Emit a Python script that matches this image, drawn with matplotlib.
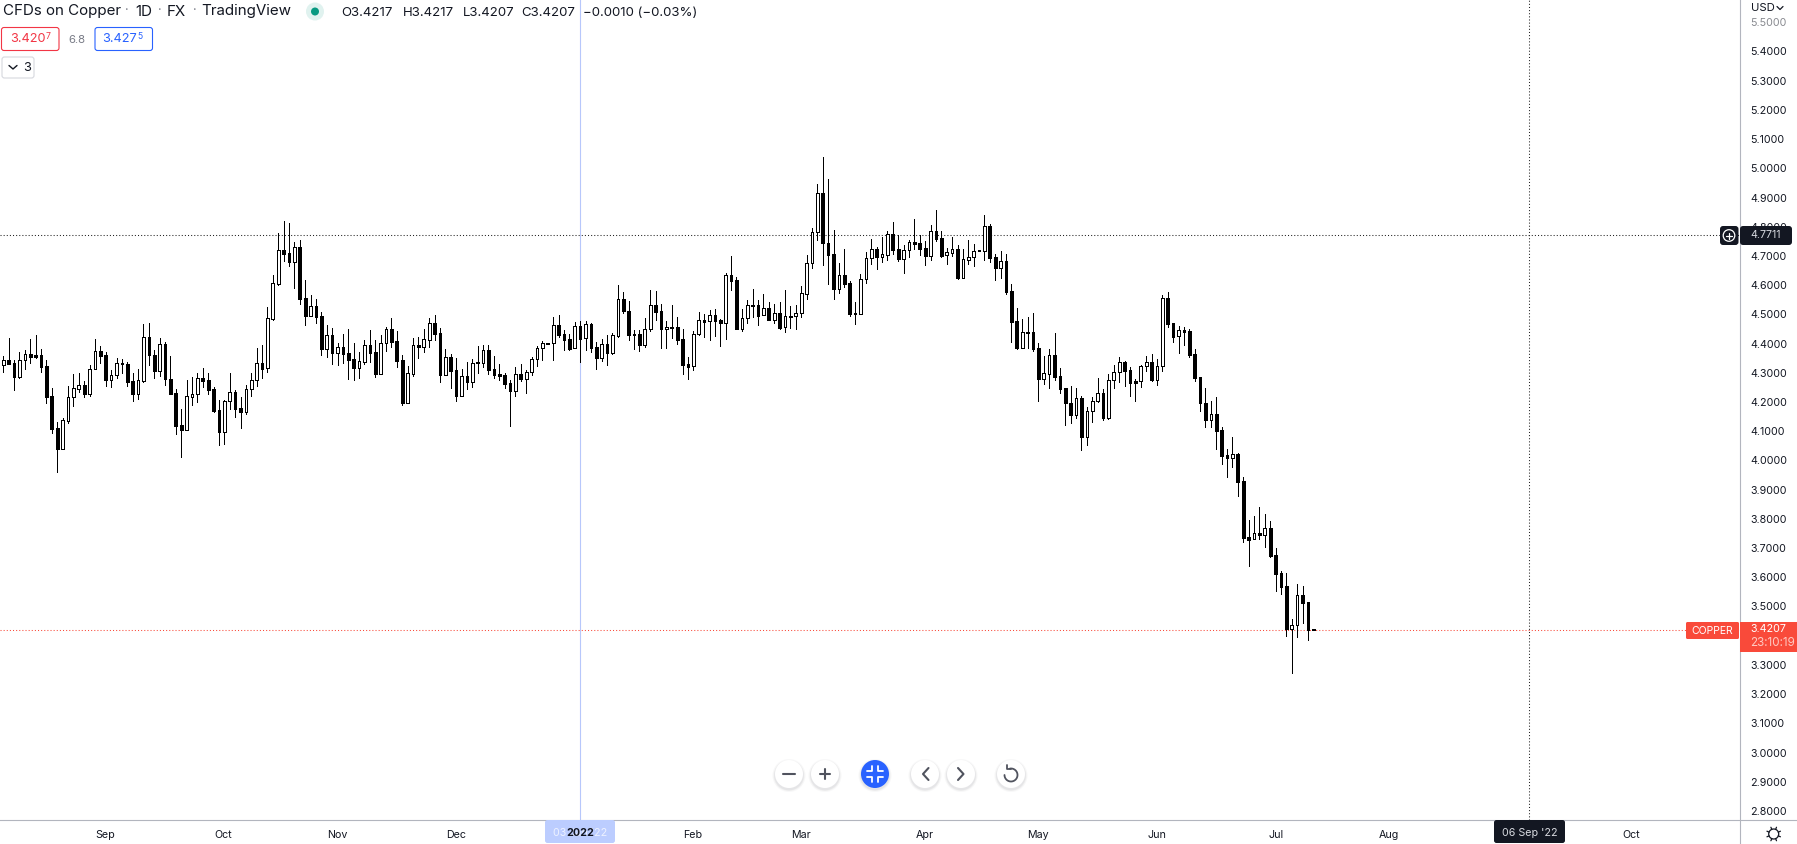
import numpy as np
import matplotlib
matplotlib.use('Agg')
import matplotlib.pyplot as plt
from matplotlib.patches import Circle, FancyBboxPatch, Rectangle

plt.rcParams['font.family'] = ['Inter', 'DejaVu Sans']

# Daily candles
opens = [
    4.328, 4.343, 4.333, 4.286, 4.343, 4.363, 4.360, 4.360, 4.322, 4.220,
    4.110, 4.040, 4.136, 4.216, 4.246, 4.257, 4.229, 4.312, 4.374, 4.360,
    4.274, 4.291, 4.334, 4.329, 4.271, 4.229, 4.273, 4.421, 4.360, 4.307,
    4.398, 4.278, 4.230, 4.120, 4.105, 4.218, 4.226, 4.281, 4.274, 4.243,
    4.172, 4.099, 4.202, 4.233, 4.179, 4.167, 4.243, 4.274, 4.333, 4.315,
    4.484, 4.604, 4.719, 4.709, 4.681, 4.730, 4.555, 4.496, 4.528, 4.493,
    4.383, 4.428, 4.369, 4.387, 4.367, 4.346, 4.318, 4.338, 4.394, 4.370,
    4.297, 4.401, 4.449, 4.408, 4.343, 4.198, 4.297, 4.394, 4.390, 4.414,
    4.469, 4.435, 4.294, 4.353, 4.309, 4.222, 4.288, 4.270, 4.336, 4.335,
    4.377, 4.312, 4.295, 4.291, 4.264, 4.239, 4.295, 4.280, 4.302, 4.346,
    4.384, 4.403, 4.403, 4.462, 4.432, 4.415, 4.384, 4.459, 4.418, 4.467,
    4.387, 4.352, 4.398, 4.369, 4.427, 4.552, 4.510, 4.432, 4.432, 4.396,
    4.449, 4.531, 4.510, 4.449, 4.456, 4.456, 4.415, 4.329, 4.322, 4.432,
    4.480, 4.476, 4.497, 4.480, 4.469, 4.634, 4.617, 4.451, 4.487, 4.531,
    4.531, 4.497, 4.521, 4.480, 4.504, 4.456, 4.493, 4.493, 4.504, 4.571,
    4.675, 4.781, 4.915, 4.743, 4.706, 4.588, 4.634, 4.606, 4.504, 4.500,
    4.620, 4.692, 4.723, 4.698, 4.705, 4.774, 4.723, 4.691, 4.719, 4.747,
    4.743, 4.726, 4.701, 4.784, 4.760, 4.702, 4.711, 4.723, 4.626, 4.687,
    4.696, 4.719, 4.718, 4.802, 4.696, 4.660, 4.682, 4.579, 4.476, 4.384,
    4.439, 4.439, 4.384, 4.280, 4.297, 4.360, 4.288, 4.247, 4.196, 4.157,
    4.213, 4.080, 4.168, 4.203, 4.230, 4.145, 4.274, 4.302, 4.336, 4.309,
    4.271, 4.271, 4.322, 4.336, 4.277, 4.322, 4.555, 4.470, 4.425, 4.446,
    4.442, 4.363, 4.285, 4.196, 4.137, 4.158, 4.103, 4.019, 4.010, 4.022,
    3.929, 3.737, 3.730, 3.751, 3.746, 3.768, 3.675, 3.614, 3.570, 3.424,
    3.436, 3.539, 3.514, 3.4217,
]
highs = [
    4.358, 4.419, 4.343, 4.370, 4.378, 4.415, 4.428, 4.380, 4.343, 4.247,
    4.132, 4.144, 4.254, 4.295, 4.298, 4.271, 4.326, 4.415, 4.391, 4.370,
    4.309, 4.350, 4.346, 4.336, 4.298, 4.312, 4.466, 4.469, 4.377, 4.418,
    4.404, 4.356, 4.243, 4.175, 4.274, 4.285, 4.298, 4.315, 4.298, 4.250,
    4.206, 4.206, 4.298, 4.240, 4.216, 4.257, 4.298, 4.384, 4.394, 4.524,
    4.635, 4.777, 4.820, 4.812, 4.748, 4.754, 4.618, 4.566, 4.553, 4.507,
    4.463, 4.453, 4.401, 4.432, 4.449, 4.401, 4.370, 4.411, 4.446, 4.411,
    4.428, 4.456, 4.487, 4.443, 4.360, 4.322, 4.418, 4.421, 4.449, 4.487,
    4.497, 4.452, 4.380, 4.363, 4.350, 4.312, 4.336, 4.346, 4.392, 4.394,
    4.394, 4.356, 4.329, 4.301, 4.274, 4.319, 4.329, 4.309, 4.353, 4.391,
    4.408, 4.403, 4.490, 4.497, 4.445, 4.432, 4.473, 4.476, 4.476, 4.469,
    4.404, 4.415, 4.428, 4.435, 4.601, 4.576, 4.545, 4.445, 4.445, 4.487,
    4.582, 4.579, 4.534, 4.476, 4.531, 4.490, 4.449, 4.353, 4.442, 4.507,
    4.500, 4.514, 4.517, 4.483, 4.641, 4.700, 4.627, 4.517, 4.548, 4.586,
    4.548, 4.569, 4.541, 4.534, 4.541, 4.582, 4.528, 4.531, 4.596, 4.702,
    4.795, 4.945, 5.038, 4.962, 4.788, 4.675, 4.723, 4.613, 4.541, 4.637,
    4.713, 4.757, 4.730, 4.764, 4.784, 4.815, 4.771, 4.737, 4.754, 4.826,
    4.771, 4.750, 4.806, 4.856, 4.784, 4.726, 4.764, 4.737, 4.723, 4.754,
    4.740, 4.719, 4.839, 4.808, 4.706, 4.716, 4.706, 4.603, 4.521, 4.483,
    4.490, 4.504, 4.401, 4.357, 4.381, 4.435, 4.315, 4.247, 4.254, 4.247,
    4.220, 4.182, 4.216, 4.281, 4.243, 4.295, 4.326, 4.353, 4.339, 4.319,
    4.278, 4.326, 4.357, 4.363, 4.346, 4.565, 4.576, 4.470, 4.459, 4.456,
    4.449, 4.381, 4.285, 4.247, 4.203, 4.216, 4.113, 4.039, 4.079, 4.025,
    3.942, 3.796, 3.810, 3.841, 3.817, 3.793, 3.700, 3.622, 3.615, 3.457,
    3.576, 3.570, 3.514, 3.4217,
]
lows = [
    4.304, 4.331, 4.242, 4.283, 4.314, 4.335, 4.350, 4.304, 4.198, 4.095,
    3.962, 4.040, 4.129, 4.186, 4.236, 4.218, 4.222, 4.312, 4.335, 4.256,
    4.253, 4.281, 4.301, 4.256, 4.205, 4.212, 4.270, 4.328, 4.283, 4.290,
    4.257, 4.229, 4.092, 4.013, 4.105, 4.191, 4.201, 4.253, 4.229, 4.167,
    4.054, 4.058, 4.177, 4.150, 4.112, 4.160, 4.222, 4.254, 4.283, 4.304,
    4.482, 4.601, 4.683, 4.666, 4.590, 4.536, 4.464, 4.496, 4.472, 4.361,
    4.354, 4.330, 4.327, 4.333, 4.279, 4.276, 4.282, 4.330, 4.337, 4.287,
    4.297, 4.375, 4.390, 4.320, 4.190, 4.198, 4.289, 4.351, 4.371, 4.388,
    4.412, 4.269, 4.294, 4.248, 4.204, 4.222, 4.245, 4.252, 4.300, 4.320,
    4.296, 4.282, 4.276, 4.248, 4.118, 4.222, 4.272, 4.231, 4.293, 4.323,
    4.344, 4.400, 4.344, 4.424, 4.379, 4.379, 4.384, 4.338, 4.379, 4.372,
    4.314, 4.342, 4.328, 4.366, 4.421, 4.504, 4.413, 4.383, 4.376, 4.390,
    4.444, 4.481, 4.386, 4.386, 4.420, 4.400, 4.297, 4.280, 4.311, 4.431,
    4.424, 4.413, 4.427, 4.393, 4.417, 4.585, 4.451, 4.444, 4.472, 4.492,
    4.465, 4.497, 4.480, 4.469, 4.449, 4.441, 4.452, 4.449, 4.492, 4.554,
    4.659, 4.753, 4.669, 4.604, 4.554, 4.573, 4.594, 4.496, 4.468, 4.500,
    4.608, 4.673, 4.656, 4.680, 4.686, 4.707, 4.684, 4.642, 4.698, 4.724,
    4.703, 4.669, 4.686, 4.751, 4.697, 4.673, 4.700, 4.621, 4.626, 4.673,
    4.666, 4.716, 4.686, 4.680, 4.618, 4.625, 4.571, 4.407, 4.383, 4.384,
    4.384, 4.373, 4.204, 4.262, 4.248, 4.276, 4.231, 4.122, 4.128, 4.145,
    4.036, 4.053, 4.132, 4.201, 4.139, 4.143, 4.248, 4.269, 4.255, 4.221,
    4.204, 4.252, 4.305, 4.272, 4.258, 4.306, 4.457, 4.406, 4.368, 4.395,
    4.354, 4.272, 4.169, 4.115, 4.115, 4.039, 3.988, 3.944, 3.979, 3.878,
    3.722, 3.640, 3.730, 3.732, 3.705, 3.671, 3.554, 3.544, 3.400, 3.274,
    3.397, 3.445, 3.387, 3.4207,
]
closes = [
    4.343, 4.331, 4.287, 4.343, 4.363, 4.355, 4.355, 4.321, 4.217, 4.109,
    4.040, 4.137, 4.216, 4.247, 4.257, 4.229, 4.312, 4.374, 4.359, 4.274,
    4.291, 4.333, 4.329, 4.270, 4.229, 4.274, 4.421, 4.360, 4.307, 4.398,
    4.278, 4.229, 4.119, 4.105, 4.220, 4.226, 4.281, 4.273, 4.242, 4.170,
    4.099, 4.202, 4.233, 4.177, 4.167, 4.243, 4.274, 4.333, 4.314, 4.487,
    4.606, 4.719, 4.708, 4.681, 4.730, 4.554, 4.496, 4.528, 4.492, 4.383,
    4.428, 4.369, 4.387, 4.366, 4.345, 4.318, 4.339, 4.394, 4.369, 4.297,
    4.401, 4.449, 4.407, 4.342, 4.198, 4.298, 4.394, 4.390, 4.415, 4.469,
    4.434, 4.294, 4.353, 4.307, 4.222, 4.288, 4.270, 4.333, 4.333, 4.377,
    4.311, 4.294, 4.290, 4.263, 4.239, 4.295, 4.280, 4.302, 4.346, 4.384,
    4.401, 4.400, 4.463, 4.431, 4.413, 4.383, 4.459, 4.417, 4.466, 4.386,
    4.352, 4.398, 4.369, 4.428, 4.552, 4.510, 4.431, 4.430, 4.396, 4.449,
    4.531, 4.509, 4.449, 4.456, 4.455, 4.413, 4.328, 4.321, 4.432, 4.480,
    4.475, 4.497, 4.478, 4.469, 4.634, 4.615, 4.451, 4.487, 4.531, 4.530,
    4.496, 4.521, 4.480, 4.504, 4.455, 4.493, 4.492, 4.504, 4.572, 4.675,
    4.781, 4.915, 4.743, 4.705, 4.588, 4.634, 4.605, 4.501, 4.500, 4.620,
    4.692, 4.723, 4.698, 4.706, 4.774, 4.722, 4.691, 4.719, 4.747, 4.742,
    4.725, 4.701, 4.784, 4.759, 4.700, 4.713, 4.723, 4.626, 4.689, 4.696,
    4.716, 4.716, 4.802, 4.694, 4.660, 4.682, 4.577, 4.475, 4.384, 4.439,
    4.438, 4.383, 4.280, 4.298, 4.360, 4.287, 4.246, 4.195, 4.157, 4.213,
    4.080, 4.168, 4.203, 4.230, 4.145, 4.274, 4.302, 4.336, 4.307, 4.266,
    4.266, 4.322, 4.336, 4.276, 4.322, 4.555, 4.468, 4.424, 4.446, 4.441,
    4.361, 4.283, 4.195, 4.137, 4.158, 4.102, 4.016, 4.010, 4.021, 3.927,
    3.736, 3.729, 3.751, 3.746, 3.768, 3.673, 3.612, 3.568, 3.424, 3.436,
    3.538, 3.513, 3.420, 3.4207,
]

price_ticks = [5.5, 5.4, 5.3, 5.2, 5.1, 5.0, 4.9, 4.8, 4.7, 4.6, 4.5, 4.4, 4.3, 4.2,
               4.1, 4.0, 3.9, 3.8, 3.7, 3.6, 3.5, 3.4, 3.3, 3.2, 3.1, 3.0, 2.9, 2.8]
month_labels = ['Sep', 'Oct', 'Nov', 'Dec', 'Feb', 'Mar', 'Apr', 'May', 'Jun', 'Jul', 'Aug', 'Oct']
month_bars = [18.9, 40.8, 61.9, 84.0, 127.8, 148.0, 171.0, 192.0, 214.0, 236.0, 257.0, 302.0]

last_price = 3.4207
crosshair_price = 4.7711
crosshair_bar = 283.0
year_bar = 107.0

W, H = 1797, 844
INK = '#131722'
GREY = '#b2b5be'
RED = '#f94a3a'
BLUE = '#2962ff'
FS = 7.7

fig = plt.figure(figsize=(W / 100, H / 100), dpi=100, facecolor='white')

# main chart, x in bar numbers, y in price
ax = fig.add_axes([0, (H - 820) / H, 1740 / W, 820 / H])
ax.set_xlim(-0.612, 322.15)
ax.set_ylim(2.7691, 5.5763)

x = np.arange(len(closes))
o, h, l, c = map(np.array, (opens, highs, lows, closes))
body_low = np.minimum(o, c)
body_high = np.maximum(o, c)
colors = ['white' if ce >= op else 'black' for op, ce in zip(o, c)]

ax.axvline(year_bar, color='#b7c7fb', lw=0.8, zorder=1)
ax.vlines(x, l, h, color='black', lw=0.72, antialiased=False, zorder=3)
ax.bar(x, body_high - body_low, bottom=body_low, width=0.5, color=colors,
       edgecolor='black', linewidth=0.72, antialiased=False, zorder=4)

ax.axhline(crosshair_price, color='#222222', lw=0.75, ls=(0, (1, 2)), zorder=2)
ax.axvline(crosshair_bar, color='#222222', lw=0.75, ls=(0, (1, 2)), zorder=2)
ax.axhline(last_price, color=RED, lw=0.75, ls=(0, (1, 2)), zorder=2)

ax.yaxis.tick_right()
ax.set_yticks(price_ticks)
ax.set_yticklabels([f'{p:.4f}' for p in price_ticks], fontsize=FS, color=INK)
ax.get_yticklabels()[0].set_alpha(0.5)
ax.set_xticks(month_bars)
ax.set_xticklabels(month_labels, fontsize=FS, color=INK)
ax.tick_params(axis='y', length=0, pad=7.6)
ax.tick_params(axis='x', length=0, pad=7.5)
for side in ['top', 'left', 'bottom', 'right']:
    ax.spines[side].set_visible(False)

# overlay in pixels for the trading view furniture
ui = fig.add_axes([0, 0, 1, 1], facecolor='none')
ui.set_xlim(0, W)
ui.set_ylim(H, 0)
ui.axis('off')


def label(px, py, s, size=FS, color=INK, ha='left', zorder=8, **kw):
    ui.text(px, py, s, fontsize=size, color=color, ha=ha, va='center', zorder=zorder, **kw)


def box(x0, y0, x1, y1, face, edge='none', rad=2.5, lw=0.8, z=5):
    ui.add_patch(FancyBboxPatch((x0 + rad, y0 + rad), x1 - x0 - 2 * rad, y1 - y0 - 2 * rad,
                                boxstyle=f'round,pad={rad},rounding_size={rad}',
                                fc=face, ec=edge, lw=lw, zorder=z))


def stroke(xs, ys, color='#50535e', lw=1.3, z=8):
    ui.plot(xs, ys, color=color, lw=lw, zorder=z, solid_capstyle='round',
            solid_joinstyle='round')


# axis lines
ui.plot([0, W], [820, 820], color=GREY, lw=0.8, zorder=3)
ui.plot([1740, 1740], [0, H], color=GREY, lw=0.8, zorder=3)

# header
for px, s in [(3, 'CFDs on Copper'), (135, '1D'), (167, 'FX'), (201, 'TradingView')]:
    label(px, 11.5, s, size=10.9)
for px in [127, 160, 195]:
    label(px, 11.5, '·', size=9, color='#787b86', ha='center')
ui.add_patch(Circle((315, 11.5), 9, fc='#e0f2ef', ec='none'))
ui.add_patch(Circle((315, 11.5), 4, fc='#089981', ec='none'))
for px, s in [(341, 'O3.4217'), (403, 'H3.4217'), (463, 'L3.4207'), (521.5, 'C3.4207'),
              (583, '\u22120.0010 (\u22120.03%)')]:
    label(px, 12.5, s, size=9.5)

# buy and sell boxes
box(1.5, 27.5, 59, 50.5, 'white', edge='#f23645')
label(10, 39.5, '3.420', size=9.2, color='#f23645')
label(45.5, 36.5, '7', size=6.2, color='#f23645')
label(68, 40, '6.8', size=8.2, color='#787b86')
box(95, 27.5, 152.5, 50.5, 'white', edge=BLUE)
label(102, 39.5, '3.427', size=9.2, color=BLUE)
label(137.5, 36.5, '5', size=6.2, color=BLUE)
box(2, 57, 34, 78, 'white', edge='#d6d8de')
stroke([9, 13, 17], [65.5, 69, 65.5], color=INK, lw=1.0)
label(23, 68, '3', size=9.2)

# USD menu
label(1750.5, 8, 'USD', size=8.2)
stroke([1777, 1780, 1783], [6.5, 9.5, 6.5], color=INK, lw=0.9)

# crosshair tags
box(1720, 226, 1738.5, 245, INK, rad=3)
ui.add_patch(Circle((1729, 235.5), 5.8, fc='none', ec='white', lw=0.9, zorder=7))
stroke([1726, 1732], [235.5, 235.5], color='white', lw=0.9)
stroke([1729, 1729], [232.5, 238.5], color='white', lw=0.9)
box(1740, 226, 1792, 245, INK, rad=3)
label(1750.5, 235.5, '4.7711', color='#d8dae0')

# last price tags
box(1686, 622, 1739, 639, RED, rad=1.5)
label(1712.5, 630.5, 'COPPER', color='white', ha='center', size=7.5)
ui.add_patch(Rectangle((1740, 622), 57, 30, fc=RED, ec='none', zorder=5))
label(1750.5, 629.5, '3.4207', color='white')
label(1750.5, 643, '23:10:19', color='#ffc9c2', size=8.4)

# time axis tags
box(545, 820, 615, 843, '#bccdff', rad=2.5)
label(580, 833, "03 Jan '22", color='#eef2ff', ha='center')
label(580, 833, '2022', color=INK, ha='center', zorder=9, fontweight='bold')
box(1494, 820, 1565, 843, INK, rad=2.5)
label(1529.5, 833, "06 Sep '22", color='#d8dae0', ha='center')

# gear
ui.add_patch(Circle((1773.7, 834), 5, fc='white', ec=INK, lw=0.9, zorder=6))
for ang in np.arange(0, 360, 45) + 22.5:
    dx, dy = np.cos(np.radians(ang)), np.sin(np.radians(ang))
    stroke([1773.7 + 5 * dx, 1773.7 + 7.3 * dx], [834 + 5 * dy, 834 + 7.3 * dy], color=INK, lw=0.9)

# toolbar
for cx, face in [(789, 'white'), (825, 'white'), (875, BLUE), (925, 'white'), (961, 'white'),
                 (1011, 'white')]:
    for r, alpha in [(16.5, 0.04), (15.5, 0.05), (14.8, 0.06)]:
        ui.add_patch(Circle((cx, 775.5), r, fc='#50535e', ec='none', alpha=alpha, zorder=5))
    ui.add_patch(Circle((cx, 774), 14, fc=face, ec='none', zorder=6))
stroke([783, 795], [774, 774], lw=1.5)
stroke([820, 830], [774, 774], lw=1.5)
stroke([825, 825], [769, 779], lw=1.5)
for sx, sy in [(-1, -1), (1, -1), (-1, 1), (1, 1)]:
    stroke([875 + sx * 8, 875 + sx * 3, 875 + sx * 3], [774 + sy * 3, 774 + sy * 3, 774 + sy * 8],
           color='white', lw=1.3)
stroke([928.5, 923, 928.5], [768, 774, 780], lw=1.5)
stroke([958, 963.5, 958], [768, 774, 780], lw=1.5)
ang = np.radians(np.linspace(-100, 180, 40))
stroke(1011 + 6.5 * np.cos(ang), 775 + 6.5 * np.sin(ang), lw=1.3)
stroke([1006.5, 1006.5, 1011], [764.5, 768.8, 768.8], lw=1.3)

fig.savefig('out.png', dpi=100)
